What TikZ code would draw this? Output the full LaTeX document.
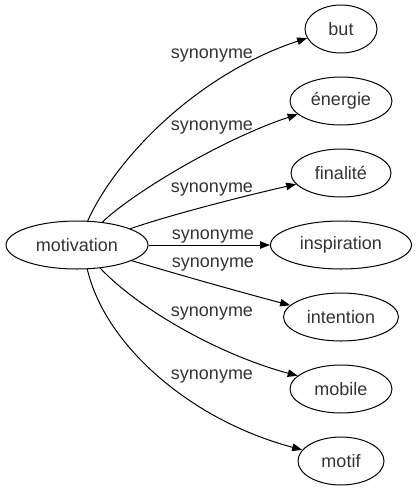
\documentclass[tikz,border=0pt]{standalone}
\usepackage{fontspec}
\setmainfont{Liberation Sans}
\usetikzlibrary{arrows.meta,shapes.geometric}
\begin{document}
\begin{tikzpicture}[x=1pt,y=-1pt,
  every node/.style={font=\fontsize{18}{20}\selectfont, text=black!80},
  term/.style={draw, ellipse, line width=1pt, minimum height=48pt, inner sep=0pt},
  lbl/.style={anchor=base, inner sep=0pt},
  rel/.style={line width=1pt, -{Triangle[length=10pt,width=7.5pt]}}]
\useasboundingbox (0,0) rectangle (416,491);
\node[term, minimum width=142pt] (motivation) at (77,245) {motivation};
\node[term, minimum width=72pt]  (but) at (341,29) {but};
\node[term, minimum width=102pt] (energie) at (341,101) {énergie};
\node[term, minimum width=100pt] (finalite) at (341,173) {finalité};
\node[term, minimum width=141pt] (inspiration) at (341,245) {inspiration};
\node[term, minimum width=115pt] (intention) at (341,317) {intention};
\node[term, minimum width=102pt] (mobile) at (341,389) {mobile};
\node[term, minimum width=86pt]  (motif) at (341,461) {motif};

\draw[rel] (motivation.66) .. controls (115,160) and (195,75) .. (but.195);
\draw[rel] (motivation.42) .. controls (130,195) and (220,140) .. (energie.197);
\draw[rel] (motivation.17) .. controls (170,215) and (240,197) .. (finalite.194);
\draw[rel] (motivation.0) -- (inspiration.180);
\draw[rel] (motivation.-16) .. controls (180,275) and (240,292) .. (intention.167);
\draw[rel] (motivation.-45) .. controls (140,310) and (220,355) .. (mobile.163);
\draw[rel] (motivation.-67) .. controls (105,345) and (190,420) .. (motif.164);

\node[lbl] (l1) at (212,58) {synonyme};
\node[lbl] (l2) at (212,130) {synonyme};
\node[lbl] (l3) at (212,192) {synonyme};
\node[lbl] (l4) at (213,239) {synonyme};
\node[lbl] (l5) at (213,267) {synonyme};
\node[lbl] (l6) at (212,316) {synonyme};
\node[lbl] (l7) at (212,379) {synonyme};
\end{tikzpicture}
\end{document}
